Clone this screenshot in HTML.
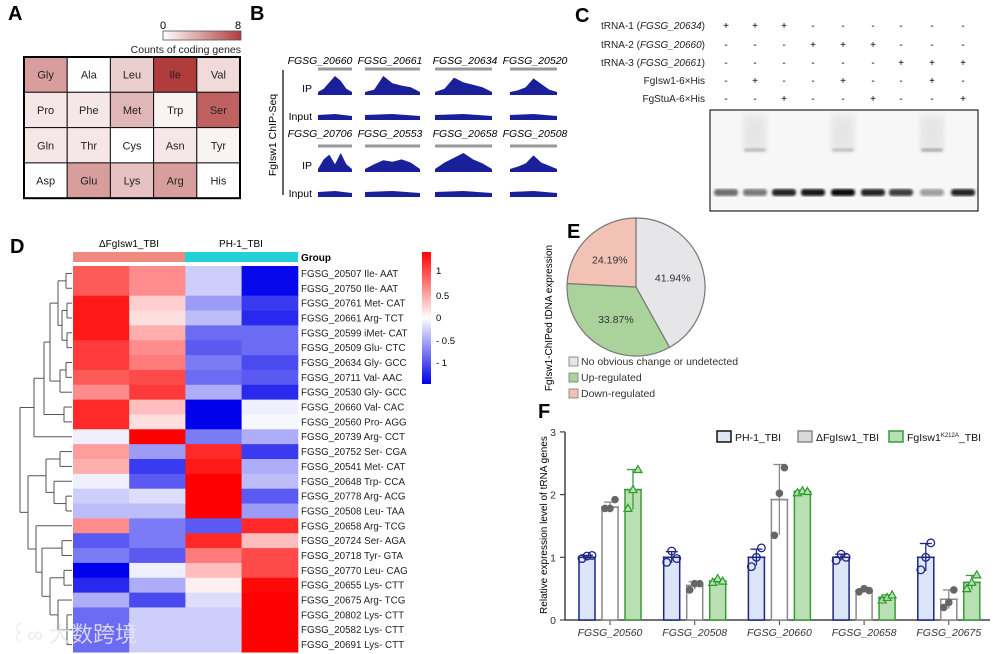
<!DOCTYPE html>
<html><head><meta charset="utf-8"><style>
body{margin:0;background:#fff}
svg{display:block;font-family:"Liberation Sans","Noto Sans CJK SC",sans-serif}
</style></head><body>
<svg id="fig" width="1000" height="654" viewBox="0 0 1000 654" xmlns="http://www.w3.org/2000/svg">
<defs>
<linearGradient id="gA" x1="0" x2="1"><stop offset="0" stop-color="#fff"/><stop offset="1" stop-color="#b03c3c"/></linearGradient>
<linearGradient id="gD" x1="0" y1="0" x2="0" y2="1"><stop offset="0" stop-color="#ff0000"/><stop offset="0.5" stop-color="#ffffff"/><stop offset="1" stop-color="#0000e8"/></linearGradient>
<filter id="blur"><feGaussianBlur stdDeviation="1.2"/></filter>
<filter id="blur2"><feGaussianBlur stdDeviation="4"/></filter>
</defs>
<g font-weight="bold" font-size="20">
<text x="8" y="20">A</text><text x="250" y="20">B</text><text x="575" y="22">C</text><text x="10" y="253">D</text><text x="567" y="238">E</text><text x="538" y="418">F</text>
</g>
<g id="panelA">
<text x="160" y="29" font-size="11">0</text>
<text x="235" y="29" font-size="11">8</text>
<rect x="163" y="31" width="78" height="9" fill="url(#gA)" stroke="#555" stroke-width="0.8"/>
<text x="241" y="53" font-size="10.5" text-anchor="end" fill="#222">Counts of coding genes</text>
</g>
<g id="panelB">
<line x1="283" y1="70" x2="283" y2="195" stroke="#000" stroke-width="1.2"/>
<text transform="translate(276,135) rotate(-90)" text-anchor="middle" font-size="10.5">FgIsw1 ChIP-Seq</text>
</g>
<g id="panelC">
<rect x="710" y="110" width="268" height="101" fill="#f7f7f7" stroke="#222" stroke-width="1.2"/>
</g>
<g id="panelD">
<text x="129" y="247" font-size="10" text-anchor="middle">ΔFgIsw1_TBI</text>
<text x="241" y="247" font-size="10" text-anchor="middle">PH-1_TBI</text>
<rect x="73" y="252" width="112" height="10" fill="#f08a80"/>
<rect x="185" y="252" width="113" height="10" fill="#22d0d6"/>
<text x="301" y="261" font-size="10" font-weight="bold">Group</text>
<rect x="422" y="252" width="9" height="132" fill="url(#gD)"/>
<g font-size="9.5">
<text x="436" y="274">1</text><text x="436" y="299">0.5</text><text x="436" y="321">0</text><text x="436" y="344">- 0.5</text><text x="436" y="366">- 1</text></g>
</g>
<g id="panelE">
<text transform="translate(552,318) rotate(-90)" text-anchor="middle" font-size="10">FgIsw1-ChIPed tDNA expression</text>
</g>
<g id="panelF">
<text transform="translate(547,525) rotate(-90)" text-anchor="middle" font-size="10">Relative expression level of tRNA genes</text>
</g>
<text x="10" y="642" font-size="22" fill="#e8e8ee" opacity="0.85">꒰∞ 大数跨境</text>
</svg>
<script>
const NS="http://www.w3.org/2000/svg";
function mk(tag,attrs,parent,txt){const e=document.createElementNS(NS,tag);for(const k in attrs)e.setAttribute(k,attrs[k]);if(txt!==undefined)e.textContent=txt;parent.appendChild(e);return e;}

const aminoNames=[["Gly","Ala","Leu","Ile","Val"],["Pro","Phe","Met","Trp","Ser"],["Gln","Thr","Cys","Asn","Tyr"],["Asp","Glu","Lys","Arg","His"]];
const aminoCounts=[[4,0,2,8,1.5],[1,1,3,0.5,6.5],[1,1,0,1,0.5],[0,4,2.5,4,0]];
const aMax=8;
const geneLabels=["FGSG_20507 Ile- AAT","FGSG_20750 Ile- AAT","FGSG_20761 Met- CAT","FGSG_20661 Arg- TCT","FGSG_20599 iMet- CAT","FGSG_20509 Glu- CTC","FGSG_20634 Gly- GCC","FGSG_20711 Val- AAC","FGSG_20530 Gly- GCC","FGSG_20660 Val- CAC","FGSG_20560 Pro- AGG","FGSG_20739 Arg- CCT","FGSG_20752 Ser- CGA","FGSG_20541 Met- CAT","FGSG_20648 Trp- CCA","FGSG_20778 Arg- ACG","FGSG_20508 Leu- TAA","FGSG_20658 Arg- TCG","FGSG_20724 Ser- AGA","FGSG_20718 Tyr- GTA","FGSG_20770 Leu- CAG","FGSG_20655 Lys- CTT","FGSG_20675 Arg- TCG","FGSG_20802 Lys- CTT","FGSG_20582 Lys- CTT","FGSG_20691 Lys- CTT"];
const heatValues=[[1.0,0.7,-0.3,-1.5],[1.0,0.7,-0.3,-1.5],[1.4,0.3,-0.6,-1.2],[1.4,0.2,-0.4,-1.3],[1.4,0.5,-0.9,-0.9],[1.2,0.7,-1.0,-0.9],[1.2,0.8,-0.8,-1.1],[1.0,1.1,-0.9,-1.0],[0.7,1.2,-0.5,-1.3],[1.3,0.4,-1.6,-0.1],[1.3,0.2,-1.6,-0.05],[-0.1,1.6,-0.8,-0.5],[0.6,-0.6,1.3,-1.2],[0.5,-1.2,1.4,-0.5],[-0.1,-1.0,1.6,-0.4],[-0.3,-0.2,1.6,-1.0],[-0.4,-0.4,1.6,-0.6],[0.7,-0.8,-1.0,1.3],[-1.0,-0.8,1.3,0.4],[-0.8,-1.0,0.8,1.1],[-1.6,-0.1,0.4,1.1],[-1.3,-0.5,0.1,1.5],[-0.5,-1.1,-0.2,1.6],[-0.9,-0.3,-0.3,1.6],[-0.9,-0.3,-0.3,1.6],[-0.9,-0.3,-0.3,1.6]];
const dendroTree=[52,[38,[28,[22,[14,[6,0,1],[10,[5,2,3],[5,4,5]]],[12,[6,6,7],8]],[8,9,10]],11],[44,[26,[12,12,13],[18,14,[6,15,16]]],[36,17,[30,[10,18,19],[22,[8,20,21],[14,22,[5,23,24,25]]]]]]];
const pieLabels=["No obvious change or undetected","Up-regulated","Down-regulated"];
const pieValues=[41.94,33.87,24.19];
const pieColors=["#e6e6e8","#a9d39b","#f2c2b6"];
const fCategories=["FGSG_20560","FGSG_20508","FGSG_20660","FGSG_20658","FGSG_20675"];
const fSeriesNames=["PH-1_TBI","ΔFgIsw1_TBI","FgIsw1"];
const fMeans=[[1.0,1.0,1.0,1.0,1.0],[1.8,0.55,1.92,0.47,0.33],[2.08,0.62,2.05,0.36,0.6]];
const fSD=[[0.03,0.09,0.13,0.05,0.22],[0.08,0.06,0.56,0.03,0.15],[0.32,0.03,0.02,0.04,0.11]];
const fPoints=[[[0.98,1.02,1.03],[0.92,1.1,0.98],[0.85,1.0,1.15],[0.95,1.05,1.0],[0.8,1.0,1.23]],[[1.78,1.78,1.92],[0.48,0.58,0.58],[1.35,2.02,2.43],[0.45,0.5,0.47],[0.2,0.28,0.48]],[[1.78,2.08,2.4],[0.6,0.66,0.62],[2.03,2.06,2.05],[0.32,0.36,0.4],[0.5,0.6,0.72]]];
const fTicks=[0,1,2,3];
const trackGenes=[["FGSG_20660","FGSG_20661","FGSG_20634","FGSG_20520"],["FGSG_20706","FGSG_20553","FGSG_20658","FGSG_20508"]];
const emsaRows=["tRNA-1|FGSG_20634","tRNA-2|FGSG_20660","tRNA-3|FGSG_20661","FgIsw1-6×His|","FgStuA-6×His|"];
const emsaSigns=["+++------","---+++---","------+++","-+--+--+-","--+--+--+"];
const bandIntensity=[0.55,0.5,0.85,0.9,0.95,0.85,0.75,0.35,0.85];
const shiftIntensity=[0,0.35,0,0,0.3,0,0,0.45,0];

// A
const A=document.getElementById('panelA');
const ax0=24,ay0=57,cw=43.2,ch=35.3;
function aColor(v){const t=v/aMax;const r=Math.round(255+(176-255)*t),g=Math.round(255+(60-255)*t),b=Math.round(255+(60-255)*t);return `rgb(${r},${g},${b})`;}
aminoCounts.forEach((row,i)=>row.forEach((v,j)=>{
  const r=mk('rect',{x:ax0+j*cw,y:ay0+i*ch,width:cw,height:ch,fill:aColor(v),stroke:'#111','stroke-width':1},A);
  
  
  const t=mk('text',{x:ax0+j*cw+cw/2,y:ay0+i*ch+ch/2+4,'font-size':11,'text-anchor':'middle',fill:'#222'},A,aminoNames[i][j]);
  
  
}));
mk('rect',{x:ax0,y:ay0,width:cw*5,height:ch*4,fill:'none',stroke:'#000','stroke-width':2},A);

// B
const B=document.getElementById('panelB');
const trackX=[[318,34],[365,55],[435,57],[510,47]];
const labelX=[320,390,465,535];
const rowY=[{lab:64,bar:69,ip:95,inp:120},{lab:137,bar:146,ip:172,inp:197}];
const ipShapes=[[[0,0.2,0.6,1,0.7,0.2,0],[0,0.15,1,0.55,0.4,0.3,0],[0,0.2,0.9,0.6,0.45,0.3,0],[0,0.1,0.3,0.85,0.5,0.15,0]],[[0,0.6,0.9,0.3,1,0.3,0],[0,0.3,0.55,0.45,0.6,0.4,0],[0,0.4,0.7,1,0.6,0.35,0],[0,0.15,0.35,0.85,0.4,0.2,0]]];
rowY.forEach((ry,ri)=>{
  const ipl=mk('text',{x:312,y:ry.ip-3,'font-size':10.5,'text-anchor':'end'},B,'IP');
  const inl=mk('text',{x:312,y:ry.inp,'font-size':10.5,'text-anchor':'end'},B,'Input');
  trackX.forEach((tx,ci)=>{
    const [x,w]=tx;
    const g=mk('text',{x:labelX[ci],y:ry.lab,'font-size':10.5,'font-style':'italic','text-anchor':'middle'},B,trackGenes[ri][ci]);
    
    mk('rect',{x:x,y:ry.bar-1.5,width:w,height:3,fill:'#999'},B);
    const s=ipShapes[ri][ci];let d=`M${x},${ry.ip}`;
    s.forEach((v,k)=>{d+=` L${(x+k*w/(s.length-1)).toFixed(1)},${(ry.ip-3-v*16).toFixed(1)}`;});
    d+=` L${x+w},${ry.ip} Z`;
    const p=mk('path',{d:d,fill:'#1a1f9a'},B);
    const q=mk('path',{d:`M${x},${ry.inp} L${x},${ry.inp-5} L${x+w*0.5},${ry.inp-6} L${x+w},${ry.inp-4} L${x+w},${ry.inp} Z`,fill:'#1a1f9a'},B);
    
  });
});

// C
const C=document.getElementById('panelC');
const laneX=[726,755,784,813,843,873,901,932,963];
const rowYc=[25,44,62,80,98];
emsaRows.forEach((r,i)=>{
  const [a,b]=r.split('|');
  const t=mk('text',{x:705,y:rowYc[i]+4,'font-size':10,'text-anchor':'end',fill:'#222'},C);
  
  if(b){t.appendChild(document.createTextNode(a+' ('));mk('tspan',{'font-style':'italic'},t,b);t.appendChild(document.createTextNode(')'));}else t.textContent=a;
  emsaSigns[i].split('').forEach((s,j)=>{mk('text',{x:laneX[j],y:rowYc[i]+4,'font-size':10,'text-anchor':'middle'},C,s);});
});
laneX.forEach((x,j)=>{
  const bi=bandIntensity[j];
  const b=mk('rect',{x:x-12,y:189,width:24,height:7,rx:3,fill:'#000',opacity:bi,filter:'url(#blur)'},C);
  
  if(shiftIntensity[j]>0){
    mk('rect',{x:x-12,y:115,width:24,height:36,fill:'#ccc',opacity:0.4,filter:'url(#blur2)'},C);
    const s=mk('rect',{x:x-11,y:148,width:22,height:4,rx:2,fill:'#666',opacity:shiftIntensity[j],filter:'url(#blur)'},C);}
});

// D
const D=document.getElementById('panelD');
const hx0=73,hy0=266,hcw=56.2,hrh=(652-266)/26;
function hColor(v){const t=Math.min(1,Math.abs(v)/1.55);if(v>=0){const c=Math.round(255*(1-t));return `rgb(255,${c},${c})`;}const c=Math.round(255*(1-t));return `rgb(${c},${c},${Math.round(255-20*t)})`;}
heatValues.forEach((row,i)=>{
  row.forEach((v,j)=>{const r=mk('rect',{x:hx0+j*hcw,y:hy0+i*hrh,width:hcw+0.5,height:hrh+0.5,fill:hColor(v)},D);
    });
  const t=mk('text',{x:301,y:hy0+i*hrh+hrh/2+3.5,'font-size':9.8,fill:'#222'},D,geneLabels[i]);
  
});
const dg=mk('g',{stroke:'#555','stroke-width':1,fill:'none'},D);

function drawNode(n){
  if(typeof n==='number')return {x:hx0-1,y:hy0+n*hrh+hrh/2};
  const x=hx0-1-n[0];const kids=n.slice(1).map(drawNode);
  kids.forEach(k=>mk('line',{x1:x,y1:k.y,x2:k.x,y2:k.y},dg));
  mk('line',{x1:x,y1:kids[0].y,x2:x,y2:kids[kids.length-1].y},dg);
  return {x:x,y:(kids[0].y+kids[kids.length-1].y)/2};
}
drawNode(dendroTree);

// E
const E=document.getElementById('panelE');
const pcx=636,pcy=287,pr=69;
let ang=0;const tot=pieValues.reduce((a,b)=>a+b,0);
pieValues.forEach((v,i)=>{
  const a0=ang,a1=ang+v/tot*2*Math.PI;ang=a1;
  const p0=[pcx+pr*Math.sin(a0),pcy-pr*Math.cos(a0)],p1=[pcx+pr*Math.sin(a1),pcy-pr*Math.cos(a1)];
  const s=mk('path',{d:`M${pcx},${pcy} L${p0[0]},${p0[1]} A${pr},${pr} 0 ${a1-a0>Math.PI?1:0} 1 ${p1[0]},${p1[1]} Z`,fill:pieColors[i],stroke:'#777','stroke-width':1.2},E);
  
  const m=(a0+a1)/2,lr=pr*0.55;
  const t=mk('text',{x:pcx+lr*Math.sin(m),y:pcy-lr*Math.cos(m)+4,'font-size':10.5,'text-anchor':'middle',fill:'#333'},E,v.toFixed(2)+'%');
  
  const ly=365+i*16;
  const b=mk('rect',{x:569,y:ly-8,width:9,height:9,fill:pieColors[i],stroke:'#777','stroke-width':0.8},E);
  
  const lt=mk('text',{x:581,y:ly,'font-size':10.5,fill:'#333'},E,pieLabels[i]);
  
});

// F
const F=document.getElementById('panelF');
const fy0=620,fyScale=62.7,fxAxis0=565,fxAxis1=990;
const fy=v=>fy0-v*fyScale;
const fx=(g,s)=>610+g*84.7+(s-1)*23;
const fFill=["#dce6f8","#ffffff","#b9e0b3"],fStroke=["#1d2585","#8a8a8a","#3b9b3b"];
mk('line',{x1:fxAxis0,y1:fy(0),x2:fxAxis1,y2:fy(0),stroke:'#444','stroke-width':1.5},F);
mk('line',{x1:fxAxis0,y1:fy(0),x2:fxAxis0,y2:fy(3),stroke:'#444','stroke-width':1.5},F);
fTicks.forEach(t=>{mk('line',{x1:fxAxis0-5,y1:fy(t),x2:fxAxis0,y2:fy(t),stroke:'#444','stroke-width':1.2},F);
  const l=mk('text',{x:fxAxis0-9,y:fy(t)+4,'font-size':10.5,'text-anchor':'end',fill:'#333'},F,t);});
fCategories.forEach((c,g)=>{
  const l=mk('text',{x:fx(g,1),y:fy(0)+16,'font-size':10.5,'font-style':'italic','text-anchor':'middle',fill:'#333'},F,c);
  
  mk('line',{x1:fx(g,1),y1:fy(0),x2:fx(g,1),y2:fy(0)+5,stroke:'#444'},F);
  fMeans.forEach((ser,s)=>{
    const v=ser[g],x=fx(g,s),w=16;
    const b=mk('rect',{x:x-w/2,y:fy(v),width:w,height:fy(0)-fy(v),fill:fFill[s],stroke:fStroke[s],'stroke-width':1.5},F);
    
    const sd=fSD[s][g];
    mk('line',{x1:x,y1:fy(v-sd),x2:x,y2:fy(v+sd),stroke:fStroke[s],'stroke-width':1.3},F);
    mk('line',{x1:x-6,y1:fy(v+sd),x2:x+6,y2:fy(v+sd),stroke:fStroke[s],'stroke-width':1.3},F);
    mk('line',{x1:x-9,y1:fy(v),x2:x+9,y2:fy(v),stroke:fStroke[s],'stroke-width':1.5},F);
    fPoints[s][g].forEach((p,k)=>{
      const px=x+(k-1)*5,py=fy(p);let m;
      if(s===0)m=mk('circle',{cx:px,cy:py,r:3.8,fill:'none',stroke:fStroke[0],'stroke-width':1.3},F);
      else if(s===1)m=mk('circle',{cx:px,cy:py,r:3.8,fill:'#666'},F);
      else m=mk('path',{d:`M${px},${py-4} L${px+4},${py+3} L${px-4},${py+3} Z`,fill:'#b9e0b3',stroke:'#2a9a2a','stroke-width':1.2},F);
      
    });
  });
});
const legX=[717,798,889];
fSeriesNames.forEach((n,s)=>{
  const b=mk('rect',{x:legX[s],y:431,width:14,height:11,fill:fFill[s]==="#ffffff"?"#d8d8d8":fFill[s],stroke:s===0?'#111':fStroke[s],'stroke-width':1.5},F);
  
  const t=mk('text',{x:legX[s]+18,y:441,'font-size':10.5,fill:'#111'},F,n);
  
  if(s===2){mk('tspan',{'font-size':6,dy:-4},t,'K212A');mk('tspan',{dy:4},t,'_TBI');}
});
</script>
</body></html>
